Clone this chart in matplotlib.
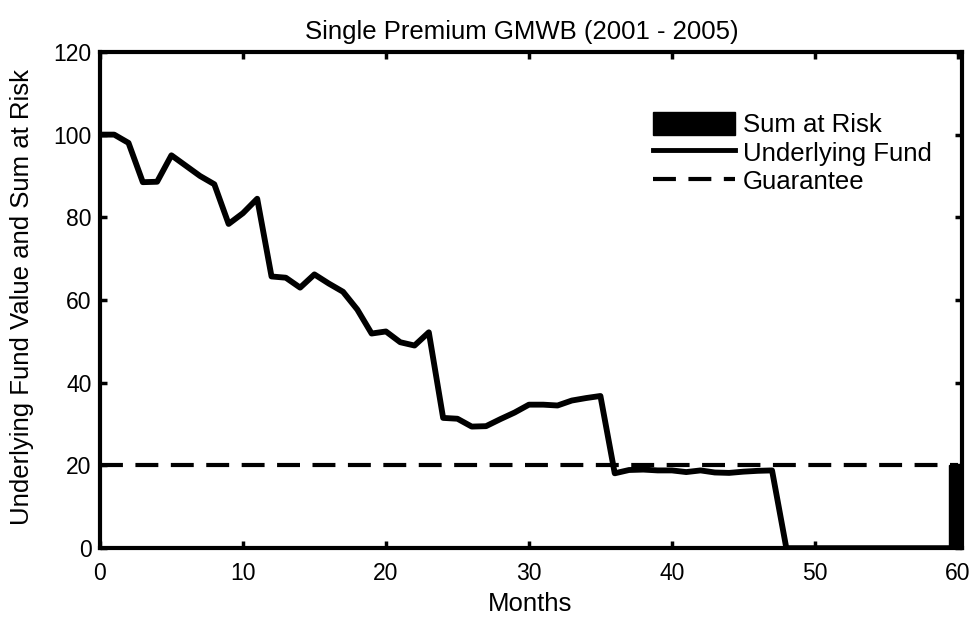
import numpy as np
import matplotlib
matplotlib.use('Agg')
import matplotlib.pyplot as plt
from matplotlib.patches import Patch
from matplotlib.lines import Line2D

plt.rcParams['font.family'] = ['Liberation Sans', 'DejaVu Sans']

# Monthly data
months = list(range(0, 61))
fund = [100, 100, 98, 88.5, 88.6, 95, 92.5, 90, 88, 78.4,
        81, 84.5, 65.7, 65.4, 63, 66.2, 64, 62, 57.7, 51.9,
        52.4, 49.8, 49, 52.2, 31.5, 31.3, 29.4, 29.5, 31.2, 32.8,
        34.7, 34.7, 34.5, 35.7, 36.3, 36.8, 18.1, 18.9, 19, 18.8,
        18.8, 18.4, 18.8, 18.3, 18.2, 18.5, 18.7, 18.8, 0, 0,
        0, 0, 0, 0, 0, 0, 0, 0, 0, 0, 0]
guarantee = [20] * 61
sum_at_risk = [0] * 60 + [20]

fig = plt.figure(figsize=(9.7, 6.18), dpi=100)
ax = fig.add_axes([0.103, 0.113, 0.889, 0.803])

ax.bar(months, sum_at_risk, width=1.2, color='black', edgecolor='black', zorder=2)
ax.plot(months, fund, color='black', linewidth=4.2, solid_joinstyle='round', zorder=3)
ax.plot(months, guarantee, color='black', linewidth=3, linestyle=(0, (5.5, 3)), zorder=3)

ax.set_xlim(0, 60.3)
ax.set_ylim(0, 120)
ax.set_xticks(range(0, 61, 10))
ax.set_yticks(range(0, 121, 20))
ax.tick_params(direction='in', length=5, width=2.5, labelsize=16.5,
               top=True, right=True)
ax.tick_params(axis='x', pad=10)
ax.tick_params(axis='y', pad=6)
for s in ax.spines.values():
    s.set_linewidth(3)

fig.text(522 / 970, 1 - 32 / 618, 'Single Premium GMWB (2001 - 2005)',
         ha='center', va='center', fontsize=18.5)
fig.text(530 / 970, 1 - 604 / 618, 'Months', ha='center', va='center', fontsize=18.5)
fig.text(22 / 970, 1 - 297 / 618, 'Underlying Fund Value and Sum at Risk',
         ha='center', va='center', rotation=90, fontsize=18.5)

handles = [Patch(facecolor='black', edgecolor='black'),
           Line2D([], [], color='black', linewidth=3.5),
           Line2D([], [], color='black', linewidth=3, linestyle=(0, (5.5, 3)))]
ax.legend(handles, ['Sum at Risk', 'Underlying Fund', 'Guarantee'],
          loc='upper left', bbox_to_anchor=(640 / 970, 1 - 99 / 618),
          bbox_transform=fig.transFigure, frameon=False, fontsize=18.5,
          handlelength=3.2, handleheight=1.0, handletextpad=0.3,
          labelspacing=0.12, borderpad=0)

fig.savefig('out.png', dpi=100)
